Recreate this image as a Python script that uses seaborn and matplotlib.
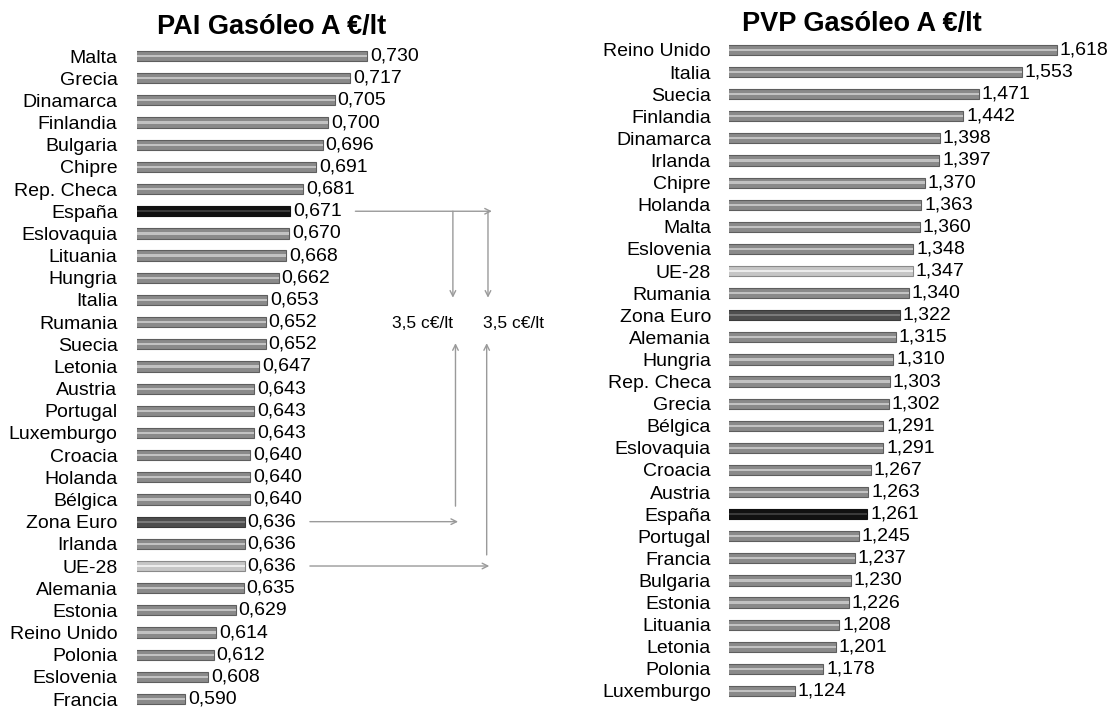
import matplotlib
matplotlib.use("Agg")
import matplotlib.pyplot as plt
import seaborn as sns

# PAI (precio antes de impuestos), €/lt
pai_paises = ["Malta", "Grecia", "Dinamarca", "Finlandia", "Bulgaria", "Chipre",
              "Rep. Checa", "España", "Eslovaquia", "Lituania", "Hungria", "Italia",
              "Rumania", "Suecia", "Letonia", "Austria", "Portugal", "Luxemburgo",
              "Croacia", "Holanda", "Bélgica", "Zona Euro", "Irlanda", "UE-28",
              "Alemania", "Estonia", "Reino Unido", "Polonia", "Eslovenia", "Francia"]
pai_valores = [0.730, 0.717, 0.705, 0.700, 0.696, 0.691, 0.681, 0.671, 0.670, 0.668,
               0.662, 0.653, 0.652, 0.652, 0.647, 0.643, 0.643, 0.643, 0.640, 0.640,
               0.640, 0.636, 0.636, 0.636, 0.635, 0.629, 0.614, 0.612, 0.608, 0.590]

# PVP (precio de venta al público), €/lt
pvp_paises = ["Reino Unido", "Italia", "Suecia", "Finlandia", "Dinamarca", "Irlanda",
              "Chipre", "Holanda", "Malta", "Eslovenia", "UE-28", "Rumania",
              "Zona Euro", "Alemania", "Hungria", "Rep. Checa", "Grecia", "Bélgica",
              "Eslovaquia", "Croacia", "Austria", "España", "Portugal", "Francia",
              "Bulgaria", "Estonia", "Lituania", "Letonia", "Polonia", "Luxemburgo"]
pvp_valores = [1.618, 1.553, 1.471, 1.442, 1.398, 1.397, 1.370, 1.363, 1.360, 1.348,
               1.347, 1.340, 1.322, 1.315, 1.310, 1.303, 1.302, 1.291, 1.291, 1.267,
               1.263, 1.261, 1.245, 1.237, 1.230, 1.226, 1.208, 1.201, 1.178, 1.124]

diferencia_texto = "3,5 c€/lt"

# colores: (relleno, borde, brillo)
normal = ("#8a8a8a", "#5e5e5e", "#c2c2c2")
resaltados = {
    "España": ("#111111", "#111111", "#3a3a3a"),
    "Zona Euro": ("#4e4e4e", "#3a3a3a", "#7a7a7a"),
    "UE-28": ("#c6c6c6", "#8a8a8a", "#ececec"),
}

sns.set_theme(style="white")
plt.rcParams["font.family"] = ["Liberation Sans", "DejaVu Sans"]
plt.rcParams["text.color"] = "black"

fig = plt.figure(figsize=(11.16, 7.09), dpi=100)


def barras(ax, paises, valores, xmin, xmax, pad_etiqueta):
    sns.barplot(x=valores, y=paises, orient="h", width=0.46, color=normal[0], ax=ax)
    base = ax.containers[0]
    sns.barplot(x=valores, y=paises, orient="h", width=0.1, color=normal[2], ax=ax)
    brillo = ax.containers[1]
    for p, b, pais in zip(base, brillo, paises):
        rel, borde, luz = resaltados.get(pais, normal)
        p.set_facecolor(rel)
        p.set_edgecolor(borde)
        p.set_linewidth(0.8)
        b.set_facecolor(luz)
        b.set_edgecolor("none")
    ax.bar_label(base, labels=[f"{v:.3f}".replace(".", ",") for v in valores],
                 padding=2, fontsize=14, color="black")
    ax.set_xlim(xmin, xmax)
    ax.set_ylim(len(paises) - 0.5, -0.5)
    ax.set_xticks([])
    ax.set_xlabel("")
    ax.set_ylabel("")
    ax.tick_params(axis="y", length=0, pad=pad_etiqueta, labelsize=14, labelcolor="black")
    sns.despine(ax=ax, left=True, bottom=True)
    ax.patch.set_alpha(0)


ax1 = fig.add_axes([137 / 1116, -0.0016, 423 / 1116, 0.9382])
barras(ax1, pai_paises, pai_valores, 0.553, 0.8784, 14)

ax2 = fig.add_axes([729 / 1116, 0.0098, 381 / 1116, 0.9353])
barras(ax2, pvp_paises, pvp_valores, 1.0, 1.0 + 381 / 530, 13)

fig.text(272 / 1116, 1 - 27 / 709, "PAI Gasóleo A €/lt", ha="center", va="center",
         fontsize=19.5, fontweight="bold", color="black")
fig.text(862 / 1116, 1 - 24 / 709, "PVP Gasóleo A €/lt", ha="center", va="center",
         fontsize=19.5, fontweight="bold", color="black")

# flechas de diferencia (España frente a Zona Euro / UE-28)
flecha = dict(arrowstyle="->", color="#9a9a9a", lw=1, shrinkA=0, shrinkB=0,
              mutation_scale=10)
i_es = pai_paises.index("España")
i_ze = pai_paises.index("Zona Euro")
i_ue = pai_paises.index("UE-28")
x_a, x_b = 0.796, 0.823
ancho_etiq = 0.05
ax1.annotate("", xy=(x_b + 0.003, i_es), xytext=(pai_valores[i_es] + ancho_etiq, i_es),
             arrowprops=flecha, annotation_clip=False)
ax1.annotate("", xy=(x_a, 10.9), xytext=(x_a, i_es), arrowprops=flecha, annotation_clip=False)
ax1.annotate("", xy=(x_b, 10.9), xytext=(x_b, i_es), arrowprops=flecha, annotation_clip=False)
ax1.text(0.773, 12.05, diferencia_texto, ha="center", va="center", fontsize=12.5,
         color="black")
ax1.text(0.843, 12.05, diferencia_texto, ha="center", va="center", fontsize=12.5,
         color="black")
ax1.annotate("", xy=(x_a + 0.002, 12.95), xytext=(x_a + 0.002, 20.3), arrowprops=flecha,
             annotation_clip=False)
ax1.annotate("", xy=(x_b - 0.001, 12.95), xytext=(x_b - 0.001, 22.5), arrowprops=flecha,
             annotation_clip=False)
ax1.annotate("", xy=(x_a + 0.004, i_ze), xytext=(pai_valores[i_ze] + ancho_etiq, i_ze),
             arrowprops=flecha, annotation_clip=False)
ax1.annotate("", xy=(x_b + 0.001, i_ue), xytext=(pai_valores[i_ue] + ancho_etiq, i_ue),
             arrowprops=flecha, annotation_clip=False)

fig.savefig("out.png", dpi=100)
